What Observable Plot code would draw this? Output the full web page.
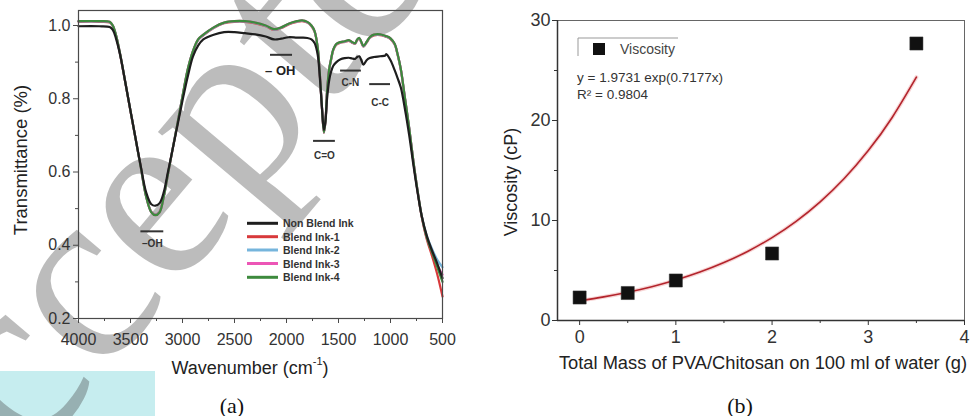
<!DOCTYPE html>
<html><head><meta charset="utf-8">
<script src="https://cdn.jsdelivr.net/npm/d3@7"></script>
<script src="https://cdn.jsdelivr.net/npm/@observablehq/plot@0.6"></script>
<style>
body{margin:0;background:#fff;}
#root{position:relative;width:973px;height:416px;overflow:hidden;background:#fff;font-family:"Liberation Sans",Arial,sans-serif;}
#root > *{position:absolute;top:0;}
svg{overflow:visible;}
</style></head><body><div id="root"></div>
<script>
// ---------- Panel (a): FTIR spectra ----------
const wavenumber = [4000,3800,3700,3670,3640,3600,3550,3500,3450,3400,3350,3300,3260,3220,3180,3140,3100,3050,3000,2950,2900,2850,2800,2700,2600,2500,2400,2300,2200,2120,2050,1980,1900,1850,1800,1760,1730,1700,1680,1660,1640,1625,1610,1590,1570,1550,1520,1480,1440,1400,1370,1340,1320,1300,1280,1260,1230,1200,1160,1100,1050,1040,1000,960,930,900,860,820,780,740,700,650,600,550,500];
const nonBlendInk = [0.998,0.998,0.996,0.988,0.965,0.920,0.845,0.767,0.690,0.614,0.545,0.512,0.508,0.515,0.545,0.600,0.655,0.725,0.795,0.860,0.915,0.945,0.962,0.975,0.982,0.982,0.979,0.976,0.970,0.962,0.964,0.968,0.967,0.967,0.966,0.962,0.952,0.920,0.860,0.780,0.715,0.740,0.800,0.850,0.875,0.890,0.900,0.908,0.911,0.912,0.910,0.909,0.914,0.916,0.905,0.893,0.905,0.911,0.914,0.916,0.918,0.922,0.905,0.878,0.855,0.830,0.770,0.700,0.620,0.545,0.480,0.425,0.385,0.350,0.310];
const blendInk1 = [1.010,1.010,1.008,0.998,0.973,0.921,0.844,0.766,0.689,0.612,0.535,0.492,0.484,0.492,0.534,0.594,0.655,0.729,0.805,0.878,0.928,0.960,0.973,0.993,1.006,1.010,1.010,1.006,0.998,0.988,0.993,1.003,1.010,1.012,1.008,0.998,0.983,0.938,0.868,0.779,0.707,0.739,0.818,0.878,0.908,0.933,0.948,0.953,0.955,0.958,0.953,0.950,0.960,0.964,0.953,0.942,0.953,0.966,0.973,0.974,0.970,0.969,0.963,0.948,0.918,0.878,0.798,0.718,0.628,0.548,0.478,0.415,0.370,0.320,0.260];
const blendInk2 = [1.011,1.011,1.009,0.999,0.974,0.922,0.845,0.767,0.689,0.611,0.534,0.491,0.483,0.491,0.533,0.594,0.655,0.730,0.806,0.879,0.929,0.961,0.974,0.994,1.007,1.011,1.011,1.007,0.999,0.989,0.994,1.004,1.011,1.013,1.009,0.999,0.984,0.939,0.869,0.780,0.708,0.740,0.819,0.879,0.909,0.934,0.949,0.954,0.956,0.959,0.954,0.951,0.961,0.965,0.954,0.943,0.954,0.967,0.974,0.975,0.971,0.970,0.964,0.949,0.919,0.879,0.799,0.719,0.629,0.549,0.481,0.425,0.390,0.360,0.340];
const blendInk3 = [1.012,1.012,1.010,1.000,0.975,0.923,0.845,0.767,0.689,0.611,0.533,0.490,0.482,0.490,0.533,0.594,0.655,0.730,0.807,0.880,0.930,0.962,0.975,0.995,1.008,1.012,1.012,1.008,1.000,0.990,0.995,1.005,1.012,1.014,1.010,1.000,0.985,0.940,0.870,0.780,0.708,0.740,0.820,0.880,0.910,0.935,0.950,0.955,0.957,0.960,0.955,0.952,0.962,0.966,0.955,0.944,0.955,0.968,0.975,0.976,0.972,0.971,0.965,0.950,0.920,0.880,0.800,0.720,0.630,0.550,0.480,0.420,0.382,0.345,0.320];
const blendInk4 = [1.012,1.012,1.010,1.000,0.975,0.923,0.845,0.767,0.689,0.611,0.533,0.490,0.482,0.490,0.533,0.594,0.655,0.730,0.807,0.880,0.930,0.962,0.975,0.995,1.008,1.012,1.012,1.008,1.000,0.990,0.995,1.005,1.012,1.014,1.010,1.000,0.985,0.940,0.870,0.780,0.708,0.740,0.820,0.880,0.910,0.935,0.950,0.955,0.957,0.960,0.955,0.952,0.962,0.966,0.955,0.944,0.955,0.968,0.975,0.976,0.972,0.971,0.965,0.950,0.920,0.880,0.800,0.720,0.630,0.550,0.480,0.420,0.380,0.340,0.300];
const seriesNames = ["Non Blend Ink","Blend Ink-1","Blend Ink-2","Blend Ink-3","Blend Ink-4"];
const seriesColors = ["#1e1e1e","#d8393b","#76b5dc","#ec56b6","#3d8a3d"];
const xTicksA = [4000,3500,3000,2500,2000,1500,1000,500];
const xMinorA = [3750,3250,2750,2250,1750,1250,750];
const yTicksA = [0.2,0.4,0.6,0.8,1.0];
const yMinorA = [0.3,0.5,0.7,0.9];
// band annotations (wavenumber / transmittance)
const bandLabels = ["\u2013OH","\u2013 OH","C=O","C-N","C-C"];
const bandFrom = [3400,2154,1740,1480,1200];
const bandTo = [3180,1942,1530,1280,1000];
const bandLevel = [0.438,0.920,0.685,0.877,0.840];
const bandTextAt = [3290,2060,1635,1385,1100];
const bandTextLevel = [0.405,0.877,0.645,0.843,0.790];

// ---------- Panel (b): viscosity ----------
const mass = [0, 0.5, 1, 2, 3.5];
const viscosity = [2.3, 2.75, 4.0, 6.7, 27.7];
const fitMass = [0,0.25,0.5,0.75,1,1.25,1.5,1.75,2,2.25,2.5,2.75,3,3.25,3.5];
const fitViscosity = [1.973,2.361,2.825,3.380,4.044,4.839,5.790,6.928,8.290,9.918,11.868,14.200,16.991,20.330,24.330];
const xTicksB = [0,1,2,3,4];
const xMinorB = [0.5,1.5,2.5,3.5];
const yTicksB = [0,10,20,30];
const yMinorB = [5,15,25];

const root = document.getElementById("root");
const NS = "http://www.w3.org/2000/svg";
function el(tag, attrs, text){const e=document.createElementNS(NS,tag);for(const k in attrs)e.setAttribute(k,attrs[k]);if(text!=null)e.textContent=text;return e;}

// background: cyan box + watermark
const bg = el("svg",{width:973,height:416});
bg.appendChild(el("rect",{x:0,y:371,width:155,height:45,fill:"#c6edef"}));
const wm = el("text",{transform:"translate(-130,568) rotate(-50)", "font-family":"Liberation Serif, serif", "font-size":250, fill:"rgba(70,70,70,0.36)", dy:"0.22em"}, "Accepted");
bg.appendChild(wm);
root.appendChild(bg);

const ftir = seriesNames.flatMap((name,k)=>{
  const vals=[nonBlendInk,blendInk1,blendInk2,blendInk3,blendInk4][k];
  return wavenumber.map((w,i)=>({w, t: vals[i], name}));
});
const drawOrder = [1,2,3,4,0];
const idx = bandLabels.map((d,i)=>i);

const left = Plot.plot({
  width: 480, height: 416,
  marginLeft: 78, marginRight: 38, marginTop: 10, marginBottom: 98,
  style: {fontFamily:'"Liberation Sans",Arial,sans-serif', fontSize:"16px", color:"#333", background:"transparent", overflow:"visible"},
  x: {domain:[4000,500], label:null},
  y: {domain:[0.2,1.041], label:null},
  marks: [
    ...drawOrder.map(k=>Plot.line(ftir.filter(d=>d.name===seriesNames[k]), {x:"w", y:"t", stroke:seriesColors[k], strokeWidth:2.2, curve:"catmull-rom"})),
    Plot.ruleY(idx, {x1:i=>bandFrom[i], x2:i=>bandTo[i], y:i=>bandLevel[i], stroke:"#333", strokeWidth:2}),
    Plot.text(idx.filter(i=>i!==1), {x:i=>bandTextAt[i], y:i=>bandTextLevel[i], text:i=>bandLabels[i], fontSize:10, fontWeight:"bold", fill:"#333"}),
    Plot.text([1], {x:i=>bandTextAt[i], y:i=>bandTextLevel[i], text:i=>bandLabels[i], fontSize:13, fontWeight:"bold", fill:"#222"}),
    Plot.frame({stroke:"#4a4a4a", strokeWidth:1.2}),
    Plot.axisX({ticks:xTicksA, tickSize:5, tickPadding:10, tickFormat:d=>String(d), label:null, stroke:"#4a4a4a"}),
    Plot.axisX({ticks:xMinorA, tickSize:3, tickFormat:()=>"", label:null, stroke:"#4a4a4a"}),
    Plot.axisY({ticks:yTicksA, tickSize:5, tickPadding:3, tickFormat:d3.format(".1f"), label:null, stroke:"#4a4a4a"}),
    Plot.axisY({ticks:yMinorA, tickSize:3, tickFormat:()=>"", label:null, stroke:"#4a4a4a"})
  ]
});
left.style.left = "0px";
root.appendChild(left);

const fit = fitMass.map((m,i)=>({m, v: fitViscosity[i]}));
const pts = mass.map((m,i)=>({m, v: viscosity[i]}));
const right = Plot.plot({
  width: 493, height: 416,
  marginLeft: 77, marginRight: 9, marginTop: 20, marginBottom: 96,
  style: {fontFamily:'"Liberation Sans",Arial,sans-serif', fontSize:"18px", color:"#333", background:"transparent", overflow:"visible"},
  x: {domain:[-0.23,4], label:null},
  y: {domain:[0,30], label:null},
  marks: [
    Plot.frame({stroke:"#666", strokeWidth:1}),
    Plot.ruleX([-0.23], {stroke:"#333", strokeWidth:1.5}),
    Plot.ruleY([0], {stroke:"#333", strokeWidth:1.5}),
    Plot.line(fit, {x:"m", y:"v", stroke:"#f2b9b9", strokeWidth:4, strokeOpacity:0.6, curve:"natural"}),
    Plot.line(fit, {x:"m", y:"v", stroke:"#b3242c", strokeWidth:1.6, curve:"natural"}),
    Plot.dot(pts, {x:"m", y:"v", symbol:"square", r:7.4, fill:"#111", stroke:"#333", strokeWidth:0.5}),
    Plot.axisX({ticks:xTicksB, tickSize:5, tickPadding:5, tickFormat:d=>String(d), label:null, stroke:"#333"}),
    Plot.axisX({ticks:xMinorB, tickSize:3, tickFormat:()=>"", label:null, stroke:"#333"}),
    Plot.axisY({ticks:yTicksB, tickSize:5, tickPadding:2, tickFormat:d=>String(d), label:null, stroke:"#333"}),
    Plot.axisY({ticks:yMinorB, tickSize:3, tickFormat:()=>"", label:null, stroke:"#333"})
  ]
});
right.style.left = "480px";
root.appendChild(right);

// overlay: titles, legends, captions
const ov = el("svg",{width:973,height:416});
ov.style.pointerEvents="none";
const sans='"Liberation Sans",Arial,sans-serif';
ov.appendChild(el("text",{x:20,y:160,transform:"rotate(-90 20 160)","text-anchor":"middle","dominant-baseline":"central","font-family":sans,"font-size":18.5,fill:"#222"},"Transmittance (%)"));
const wn = el("text",{x:250,y:368,"text-anchor":"middle","dominant-baseline":"central","font-family":sans,"font-size":18,fill:"#222"});
wn.appendChild(el("tspan",{},"Wavenumber (cm"));
wn.appendChild(el("tspan",{"font-size":11,dy:-7},"-1"));
wn.appendChild(el("tspan",{dy:7},")"));
ov.appendChild(wn);
ov.appendChild(el("text",{x:511,y:182,transform:"rotate(-90 511 182)","text-anchor":"middle","dominant-baseline":"central","font-family":sans,"font-size":18,fill:"#222"},"Viscosity (cP)"));
ov.appendChild(el("text",{x:763,y:362,"text-anchor":"middle","dominant-baseline":"central","font-family":sans,"font-size":18.3,fill:"#222"},"Total Mass of PVA/Chitosan on 100 ml of water (g)"));
const serif='"Liberation Serif","Times New Roman",serif';
ov.appendChild(el("text",{x:232,y:405,"text-anchor":"middle","dominant-baseline":"central","font-family":serif,"font-size":22,fill:"#111"},"(a)"));
ov.appendChild(el("text",{x:740,y:405,"text-anchor":"middle","dominant-baseline":"central","font-family":serif,"font-size":22,fill:"#111"},"(b)"));
// legend (a)
seriesNames.forEach((n,i)=>{
  const y = [223.3,236.7,250,263.5,277.3][i];
  ov.appendChild(el("line",{x1:247,x2:278,y1:y,y2:y,stroke:seriesColors[i],"stroke-width":3}));
  ov.appendChild(el("text",{x:283,y:y,"dominant-baseline":"central","font-family":sans,"font-size":10.5,"font-weight":"bold",fill:"#333"},n));
});
// legend (b)
ov.appendChild(el("polyline",{points:"578,56 578,38 678,38",fill:"none",stroke:"#999","stroke-width":1}));
ov.appendChild(el("rect",{x:593,y:43,width:12,height:12,fill:"#111"}));
ov.appendChild(el("text",{x:620,y:49,"dominant-baseline":"central","font-family":sans,"font-size":14,fill:"#444"},"Viscosity"));
ov.appendChild(el("text",{x:577,y:77,"dominant-baseline":"central","font-family":sans,"font-size":13.5,fill:"#333"},"y = 1.9731 exp(0.7177x)"));
ov.appendChild(el("text",{x:577,y:94,"dominant-baseline":"central","font-family":sans,"font-size":13.5,fill:"#333"},"R\u00B2 = 0.9804"));
root.appendChild(ov);
</script></body></html>
